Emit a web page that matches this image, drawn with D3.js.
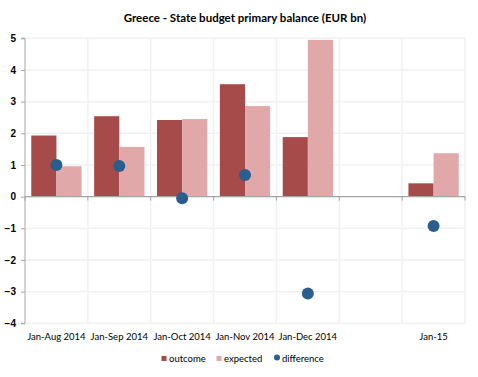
<!DOCTYPE html>
<html><head><meta charset="utf-8">
<script src="https://cdn.jsdelivr.net/npm/d3@7"></script>
<style>body{margin:0;background:#fff;} svg{display:block;font-family:Lato,"Open Sans",sans-serif;}</style>
</head><body><svg id="c" width="478" height="377"></svg>
<script>
const categories = ["Jan-Aug 2014","Jan-Sep 2014","Jan-Oct 2014","Jan-Nov 2014","Jan-Dec 2014","","Jan-15"];
const outcome = [1.93, 2.54, 2.42, 3.55, 1.88, null, 0.42];
const expected = [0.96, 1.57, 2.45, 2.86, 4.95, null, 1.37];
const difference = [1.0, 0.97, -0.05, 0.68, -3.06, null, -0.93];
const yTicks = [-4,-3,-2,-1,0,1,2,3,4,5];
const title = "Greece - State budget primary balance (EUR bn)";
const seriesNames = ["outcome","expected","difference"];
const colors = {outcome:"#a64b49", expected:"#e0a8a8", difference:"#2a5e8f"};

const svg = d3.select("#c");
const m = {l:25, r:13, t:38, b:54};
const W = 478, H = 377;
const x = d3.scaleBand().domain(d3.range(categories.length)).range([m.l, W-m.r]).paddingInner(0).paddingOuter(0);
const y = d3.scaleLinear().domain([-4,5]).range([323.3, 38.3]);

// gridlines
svg.append("g").selectAll("line").data(yTicks).join("line")
  .attr("x1", m.l).attr("x2", W-m.r).attr("y1", d=>y(d)).attr("y2", d=>y(d))
  .attr("stroke", "#f1f1f1").attr("stroke-width", 1.5);
svg.append("g").selectAll("line").data(d3.range(1, categories.length+1)).join("line")
  .attr("x1", i=>x.range()[0]+i*x.step()).attr("x2", i=>x.range()[0]+i*x.step())
  .attr("y1", y(5)).attr("y2", y(-4))
  .attr("stroke", "#f1f1f1").attr("stroke-width", 1.5);

const bw = x.bandwidth();
const pad = bw*0.1;
const barW = (bw - 2*pad)/2;
const gb = svg.append("g");
gb.selectAll("rect.o").data(outcome.map((v,i)=>({v,i})).filter(d=>d.v!=null)).join("rect")
  .attr("x", d=>x(d.i)+pad).attr("width", barW)
  .attr("y", d=>y(Math.max(0,d.v))).attr("height", d=>Math.abs(y(d.v)-y(0)))
  .attr("fill", colors.outcome);
gb.selectAll("rect.e").data(expected.map((v,i)=>({v,i})).filter(d=>d.v!=null)).join("rect")
  .attr("x", d=>x(d.i)+pad+barW).attr("width", barW)
  .attr("y", d=>y(Math.max(0,d.v))).attr("height", d=>Math.abs(y(d.v)-y(0)))
  .attr("fill", colors.expected);

// y axis
const yAxis = d3.axisLeft(y).tickValues(yTicks).tickSize(4).tickFormat(d3.format("d"));
const ga = svg.append("g").attr("transform", `translate(${m.l},0)`).call(yAxis);
ga.select(".domain").attr("stroke", "#a6a6a6").attr("d", `M-4,${y(5)}H0V${y(-4)}H-4`);
ga.selectAll(".tick line").attr("stroke", "#a6a6a6");
ga.selectAll("text").attr("font-size", 10).attr("fill", "#000").attr("x", -9).attr("font-weight", "bold");

// x axis at zero
const gx = svg.append("g");
gx.append("line").attr("x1", m.l).attr("x2", W-m.r).attr("y1", y(0)).attr("y2", y(0)).attr("stroke", "#a6a6a6").attr("stroke-width", 1.2);
gx.selectAll("line.t").data(d3.range(0, categories.length+1)).join("line")
  .attr("x1", i=>x.range()[0]+i*x.step()).attr("x2", i=>x.range()[0]+i*x.step())
  .attr("y1", y(0)).attr("y2", y(0)+4).attr("stroke", "#a6a6a6");
svg.append("g").selectAll("text").data(categories.map((c,i)=>({c,i}))).join("text")
  .attr("x", d=>x(d.i)+bw/2).attr("y", 340).attr("text-anchor", "middle")
  .attr("font-size", 9.5).attr("fill", "#000").text(d=>d.c);

// dots
svg.append("g").selectAll("circle").data(difference.map((v,i)=>({v,i})).filter(d=>d.v!=null)).join("circle")
  .attr("cx", d=>x(d.i)+bw/2).attr("cy", d=>y(d.v)).attr("r", 6)
  .attr("fill", colors.difference);

// title
svg.append("text").attr("x", 245).attr("y", 22).attr("text-anchor", "middle")
  .attr("font-size", 11.5).attr("font-weight", "bold").attr("fill", "#000").text(title);

// legend
const lg = svg.append("g");
const lx = [161.5, 216.5, 274.5];
seriesNames.forEach((n,i)=>{
  if (n === "difference") lg.append("circle").attr("cx", lx[i]+2.5).attr("cy", 357.5).attr("r", 3).attr("fill", colors[n]);
  else lg.append("rect").attr("x", lx[i]).attr("y", 356).attr("width", 5).attr("height", 5).attr("fill", colors[n]);
  lg.append("text").attr("x", lx[i]+7.5).attr("y", 362).attr("font-size", 9.5).attr("fill", "#000").text(n);
});
</script></body></html>
